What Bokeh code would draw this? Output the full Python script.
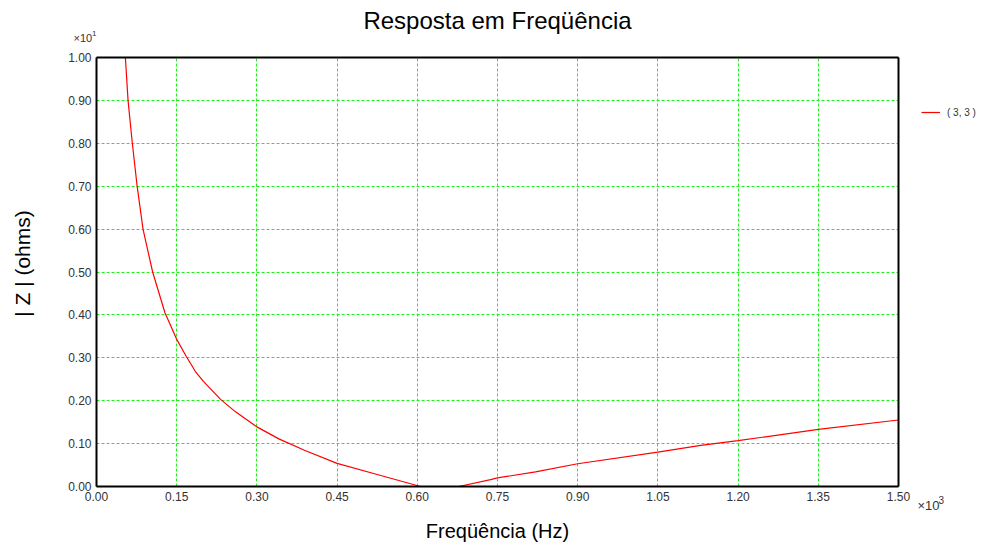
from bokeh.plotting import figure
from bokeh.models import (Range1d, FixedTicker, PrintfTickFormatter, Label,
                          Legend, LegendItem, LinearAxis, Grid)
from bokeh.embed import file_html
from bokeh.resources import INLINE
import math

# ---- data (x in Hz x10^3, y in ohms x10^1) ----
freq = [0.054, 0.059, 0.067, 0.076, 0.087, 0.105, 0.128, 0.150, 0.168, 0.185,
        0.200, 0.232, 0.260, 0.300, 0.341, 0.390, 0.450, 0.525, 0.606,
        float("nan"),
        0.678, 0.737, 0.750, 0.821, 0.900, 1.050, 1.130, 1.200, 1.350, 1.500]
z_mag = [1.000, 0.900, 0.800, 0.700, 0.600, 0.500, 0.405, 0.343, 0.303, 0.268,
         0.245, 0.203, 0.174, 0.139, 0.111, 0.084, 0.054, 0.028, 0.000,
         float("nan"),
         0.000, 0.016, 0.020, 0.034, 0.053, 0.080, 0.096, 0.107, 0.133, 0.155]
series_name = "( 3, 3 )"
x_ticks = [0.00, 0.15, 0.30, 0.45, 0.60, 0.75, 0.90, 1.05, 1.20, 1.35, 1.50]
y_ticks = [0.00, 0.10, 0.20, 0.30, 0.40, 0.50, 0.60, 0.70, 0.80, 0.90, 1.00]
x_lo, x_hi = x_ticks[0], x_ticks[-1]
y_lo, y_hi = y_ticks[0], y_ticks[-1]

FONT = "Liberation Sans"
W, H = 986, 544
# plot box in canvas pixels
BOX_L, BOX_R, BOX_T, BOX_B = 96, 898, 57, 486
sx = (BOX_R - BOX_L) / (x_hi - x_lo)
sy = (BOX_B - BOX_T) / (y_hi - y_lo)

def dx(px):
    return x_lo + (px - BOX_L) / sx

def dy(py):
    return y_lo + (BOX_B - py) / sy

p = figure(width=W, height=H, output_backend="svg", toolbar_location=None,
           x_range=Range1d(dx(0), dx(W)), y_range=Range1d(dy(H), dy(0)),
           x_axis_location=None, y_axis_location=None,
           min_border=0, min_border_left=0, min_border_right=0,
           min_border_top=0, min_border_bottom=0, title=None)
p.background_fill_color = "white"
p.border_fill_color = "white"
p.outline_line_color = None
for g in list(p.xgrid) + list(p.ygrid):
    g.visible = False

# grids restricted to the plot box
p.add_layout(Grid(dimension=0, ticker=FixedTicker(ticks=x_ticks),
                  bounds=(x_lo, x_hi), cross_bounds=(y_lo, y_hi),
                  grid_line_color="#22ee22", grid_line_dash="3 2",
                  grid_line_width=1), "center")
p.add_layout(Grid(dimension=1, ticker=FixedTicker(ticks=y_ticks),
                  bounds=(y_lo, y_hi), cross_bounds=(x_lo, x_hi),
                  grid_line_color="#22ee22", grid_line_dash="3 2",
                  grid_line_width=1), "center")

def make_axis(loc, ticks, bounds, labels=True):
    ax = LinearAxis(fixed_location=loc, bounds=bounds,
                    ticker=FixedTicker(ticks=ticks),
                    formatter=PrintfTickFormatter(format="%.2f"))
    ax.axis_line_color = "black"
    ax.axis_line_width = 2
    ax.major_tick_out = 0
    ax.major_tick_in = 0
    ax.minor_tick_out = 0
    ax.minor_tick_in = 0
    ax.major_label_text_font = FONT
    ax.major_label_text_font_size = "12px"
    ax.major_label_text_color = "#333333"
    ax.major_label_standoff = 5
    if not labels:
        ax.major_label_text_alpha = 0
    return ax

p.add_layout(make_axis(x_lo, y_ticks, (y_lo, y_hi)), "left")
p.add_layout(make_axis(y_lo, x_ticks, (x_lo, x_hi)), "below")
p.add_layout(make_axis(x_hi, [], (y_lo, y_hi), labels=False), "right")
p.add_layout(make_axis(y_hi, [], (x_lo, x_hi), labels=False), "above")

r = p.line(freq, z_mag, line_color="#ff0000", line_width=1.2)

legend = Legend(items=[LegendItem(label=series_name, renderers=[r])],
                location=(921, H - 112 - 7), border_line_color=None,
                background_fill_alpha=0, padding=0, margin=0, spacing=0,
                glyph_width=19, glyph_height=14, label_standoff=7,
                label_text_font=FONT, label_text_font_size="10px",
                label_text_color="#333333", label_height=14)
p.add_layout(legend, "center")

def lab(px, py, text, size, align="center", baseline="middle", angle=0.0,
        color="black"):
    p.add_layout(Label(x=dx(px), y=dy(py), text=text, text_font=FONT,
                       text_font_size=size, text_align=align,
                       text_baseline=baseline, angle=angle, text_color=color))

lab(497, 20, "Resposta em Freqüência", "24px")
lab(497, 530, "Freqüência (Hz)", "20px")
lab(22, 263, "| Z | (ohms)", "21px", angle=math.pi / 2)
# multipliers: base and raised exponent
lab(73, 37, "×10", "11px", align="left", baseline="alphabetic", color="#333333")
lab(91.5, 32.5, "1", "8px", align="left", baseline="alphabetic", color="#333333")
lab(917, 505, "×10", "13px", align="left", baseline="alphabetic", color="#333333")
lab(938, 499, "3", "10px", align="left", baseline="alphabetic", color="#333333")

open("out.html", "w").write(file_html(p, INLINE))
